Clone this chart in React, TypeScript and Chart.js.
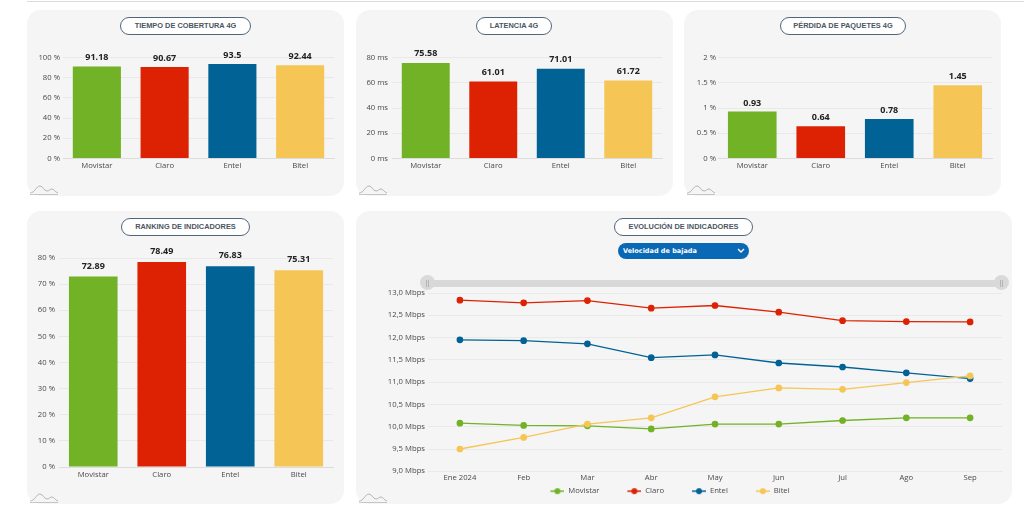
import React, { useEffect, useRef } from "react";
import { Chart, registerables } from "chart.js";

Chart.register(...registerables);

const operators = ["Movistar", "Claro", "Entel", "Bitel"];
const operatorColors = ["#72b226", "#dd2204", "#006295", "#f5c656"];
const coverage = [91.18, 90.67, 93.5, 92.44];
const latency = [75.58, 61.01, 71.01, 61.72];
const packetLoss = [0.93, 0.64, 0.78, 1.45];
const ranking = [72.89, 78.49, 76.83, 75.31];
const months = ["Ene 2024", "Feb", "Mar", "Abr", "May", "Jun", "Jul", "Ago", "Sep"];
const movistarSpeed = [10.08, 10.03, 10.02, 9.95, 10.06, 10.06, 10.14, 10.2, 10.2];
const claroSpeed = [12.84, 12.78, 12.83, 12.66, 12.72, 12.57, 12.38, 12.36, 12.35];
const entelSpeed = [11.95, 11.93, 11.86, 11.55, 11.61, 11.43, 11.34, 11.21, 11.08];
const bitelSpeed = [9.5, 9.76, 10.06, 10.2, 10.67, 10.87, 10.84, 10.99, 11.14];

const FONT = "'Open Sans', sans-serif";
const GRID = "#e9e9e9";
const TICK = "#4a4a4a";
const TICK_SIZE = 7.7;

type Box = { x: number; y: number; w: number; h: number };
type Plot = { left: number; top: number; right: number; bottom: number };

const valueLabels = {
  id: "valueLabels",
  afterDatasetsDraw(chart: any) {
    const ctx = chart.ctx;
    const meta = chart.getDatasetMeta(0);
    const gap = chart.options.plugins.valueLabels.gap;
    ctx.save();
    ctx.font = `bold 9px ${FONT}`;
    ctx.fillStyle = "#222";
    ctx.textAlign = "center";
    ctx.textBaseline = "bottom";
    meta.data.forEach((el: any, i: number) => {
      ctx.fillText(String(chart.data.datasets[0].data[i]), el.x, el.y - gap);
    });
    ctx.restore();
  },
};

const legendShift = {
  id: "legendShift",
  afterLayout(chart: any) {
    chart.legend.left -= 21;
    chart.legend.right -= 21;
    chart.legend.top += 1;
    chart.legend.bottom += 1;
  },
};

function scalesFor(box: Box, plot: Plot, extraBottom: number) {
  return {
    xFit(s: any) {
      s.height = box.y + box.h - plot.bottom - extraBottom;
    },
    yFit(s: any) {
      s.width = plot.left - box.x;
    },
    padding: { top: plot.top - box.y, right: box.x + box.w - plot.right, left: 0, bottom: 0 },
  };
}

function BarPanel(props: {
  box: Box;
  plot: Plot;
  values: number[];
  max: number;
  step: number;
  unit: string;
  title: string;
  tickGap: number;
  labelGap: number;
  pill: { x: number; w: number };
}) {
  const ref = useRef<HTMLCanvasElement | null>(null);
  const { box, plot, values, max, step, unit, tickGap, labelGap } = props;
  useEffect(() => {
    const f = scalesFor(box, plot, 0);
    const chart = new Chart(ref.current as HTMLCanvasElement, {
      type: "bar",
      data: {
        labels: operators,
        datasets: [
          {
            data: values,
            backgroundColor: operatorColors,
            categoryPercentage: 0.71,
            barPercentage: 1,
          },
        ],
      },
      options: {
        animation: false,
        responsive: false,
        layout: { padding: f.padding },
        plugins: { legend: { display: false }, tooltip: { enabled: false }, valueLabels: { gap: labelGap } },
        scales: {
          x: {
            afterFit: f.xFit,
            grid: { display: false, drawTicks: false },
            border: { color: "#dcdcdc" },
            ticks: { color: TICK, font: { family: FONT, size: TICK_SIZE }, padding: 3, maxRotation: 0 },
          },
          y: {
            min: 0,
            max,
            afterFit: f.yFit,
            grid: { color: GRID, drawTicks: false },
            border: { display: false },
            ticks: {
              stepSize: step,
              color: TICK,
              padding: tickGap,
              font: { family: FONT, size: TICK_SIZE },
              callback: (v: any) => `${v} ${unit}`,
            },
          },
        },
      },
      plugins: [valueLabels],
    } as any);
    return () => chart.destroy();
  }, []);
  return (
    <Panel box={box} title={props.title} pill={props.pill}>
      <canvas ref={ref} width={box.w} height={box.h} style={{ position: "absolute", left: 0, top: 0 }} />
    </Panel>
  );
}

function Logo() {
  return (
    <svg width="30" height="12" style={{ position: "absolute", left: 2, bottom: 0 }}>
      <path d="M1 9 C6 9 7 2 11 2 C14 2 15 7 18 7 C20 7 21 5 23 5 C25 5 26 8 29 9" fill="none" stroke="#9a9a9a" strokeWidth="0.7" />
      <path d="M1 10.5 H29" stroke="#b0b0b0" strokeWidth="0.7" />
    </svg>
  );
}

function Panel(props: { box: Box; title: string; pill: { x: number; w: number }; children: any }) {
  const { box, pill } = props;
  return (
    <div
      style={{
        position: "absolute",
        left: box.x,
        top: box.y,
        width: box.w,
        height: box.h,
        background: "#f5f5f5",
        borderRadius: 14,
      }}
    >
      {props.children}
      <div
        style={{
          position: "absolute",
          left: pill.x - box.x,
          top: 7,
          width: pill.w,
          height: 18,
          boxSizing: "border-box",
          background: "#fff",
          border: "1.5px solid #50667a",
          borderRadius: 9,
          font: "bold 7.4px 'Liberation Sans', Arial, sans-serif",
          color: "#4b5660",
          textAlign: "center",
          lineHeight: "15px",
          whiteSpace: "nowrap",
        }}
      >
        {props.title}
      </div>
      <Logo />
    </div>
  );
}

function markerFor(color: string) {
  const c = document.createElement("canvas");
  c.width = 38;
  c.height = 8;
  const x = c.getContext("2d") as CanvasRenderingContext2D;
  x.strokeStyle = color;
  x.lineWidth = 1.5;
  x.beginPath();
  x.moveTo(24, 4);
  x.lineTo(38, 4);
  x.stroke();
  x.fillStyle = color;
  x.beginPath();
  x.arc(31, 4, 3, 0, Math.PI * 2);
  x.fill();
  return c;
}

function LinePanel(props: { box: Box; plot: Plot }) {
  const ref = useRef<HTMLCanvasElement | null>(null);
  const { box, plot } = props;
  useEffect(() => {
    const f = scalesFor(box, plot, 22.5);
    const series = [movistarSpeed, claroSpeed, entelSpeed, bitelSpeed];
    const chart = new Chart(ref.current as HTMLCanvasElement, {
      type: "line",
      data: {
        labels: months,
        datasets: series.map((data, i) => ({
          label: operators[i],
          data,
          order: series.length - i,
          borderColor: operatorColors[i],
          backgroundColor: operatorColors[i],
          borderWidth: 1.3,
          pointRadius: 2.7,
          pointHoverRadius: 2.7,
          pointStyle: "circle",
          tension: 0,
        })),
      },
      options: {
        animation: false,
        responsive: false,
        layout: { padding: f.padding },
        plugins: {
          tooltip: { enabled: false },
          legend: {
            position: "bottom",
            labels: {
              color: TICK,
              font: { family: FONT, size: TICK_SIZE },
              usePointStyle: true,
              pointStyleWidth: 38,
              padding: 4,
              boxHeight: 8,
              generateLabels: () =>
                operators.map((text, i) => ({
                  text,
                  fontColor: TICK,
                  pointStyle: markerFor(operatorColors[i]),
                  datasetIndex: i,
                  lineWidth: 0,
                  strokeStyle: "transparent",
                  fillStyle: operatorColors[i],
                })),
            },
          },
        },
        scales: {
          x: {
            offset: true,
            afterFit: f.xFit,
            grid: { display: false, drawTicks: false },
            border: { color: GRID },
            ticks: { color: TICK, font: { family: FONT, size: TICK_SIZE }, padding: 2, maxRotation: 0, autoSkip: false },
          },
          y: {
            min: 9,
            max: 13,
            afterFit: f.yFit,
            grid: { color: GRID, drawTicks: false },
            border: { display: false },
            ticks: {
              stepSize: 0.5,
              color: TICK,
              padding: 3,
              font: { family: FONT, size: TICK_SIZE },
              callback: (v: any) => `${Number(v).toFixed(1).replace(".", ",")} Mbps`,
            },
          },
        },
      },
      plugins: [legendShift],
    } as any);
    return () => chart.destroy();
  }, []);
  const handle = (left: number) => (
    <div
      style={{
        position: "absolute",
        left,
        top: 64,
        width: 15,
        height: 15,
        borderRadius: 8,
        background: "#d9d9d9",
        color: "#9a9a9a",
        font: "7px 'Liberation Sans', sans-serif",
        textAlign: "center",
        lineHeight: "15px",
      }}
    >
      ||
    </div>
  );
  return (
    <Panel box={box} title="EVOLUCIÓN DE INDICADORES" pill={{ x: 614, w: 139 }}>
      <canvas ref={ref} width={box.w} height={box.h} style={{ position: "absolute", left: 0, top: 0 }} />
      <div style={{ position: "absolute", left: 72, top: 68.5, width: 576, height: 7, background: "#d8d8d8" }} />
      {handle(64)}
      {handle(638)}
      <div
        style={{
          position: "absolute",
          left: 262,
          top: 32,
          width: 131,
          height: 16,
          borderRadius: 8,
          background: "#0a69b5",
          color: "#fff",
          font: "bold 6.5px 'DejaVu Sans', sans-serif",
          lineHeight: "16px",
          paddingLeft: 5,
          boxSizing: "border-box",
        }}
      >
        Velocidad de bajada
        <svg width="8" height="6" style={{ position: "absolute", right: 4, top: 5 }}>
          <path d="M1 1 L4 4 L7 1" fill="none" stroke="#fff" strokeWidth="1.4" />
        </svg>
      </div>
    </Panel>
  );
}

export default function App() {
  return (
    <div style={{ position: "absolute", left: 0, top: 0, width: 1024, height: 508, background: "#fff", overflow: "hidden" }}>
      <div style={{ position: "absolute", left: 27, top: 1, right: 0, height: 1, background: "#dcdcdc" }} />
      <BarPanel
        box={{ x: 27, y: 10, w: 317, h: 186 }}
        plot={{ left: 63, top: 57.5, right: 334, bottom: 158.5 }}
        values={coverage}
        max={100}
        step={20}
        unit="%"
        tickGap={3}
        labelGap={4}
        title="TIEMPO DE COBERTURA 4G"
        pill={{ x: 120, w: 131 }}
      />
      <BarPanel
        box={{ x: 356, y: 10, w: 317, h: 186 }}
        plot={{ left: 392, top: 57.5, right: 662, bottom: 158.5 }}
        values={latency}
        max={80}
        step={20}
        unit="ms"
        tickGap={4}
        labelGap={5}
        title="LATENCIA 4G"
        pill={{ x: 476, w: 76 }}
      />
      <BarPanel
        box={{ x: 684, y: 10, w: 317, h: 186 }}
        plot={{ left: 718, top: 57.5, right: 992, bottom: 158.5 }}
        values={packetLoss}
        max={2}
        step={0.5}
        unit="%"
        tickGap={2}
        labelGap={4}
        title="PÉRDIDA DE PAQUETES 4G"
        pill={{ x: 780, w: 126 }}
      />
      <BarPanel
        box={{ x: 27, y: 211, w: 317, h: 293 }}
        plot={{ left: 59, top: 258, right: 333, bottom: 467 }}
        values={ranking}
        max={80}
        step={10}
        unit="%"
        tickGap={4}
        labelGap={6}
        title="RANKING DE INDICADORES"
        pill={{ x: 121, w: 129 }}
      />
      <LinePanel box={{ x: 356, y: 211, w: 656, h: 293 }} plot={{ left: 428, top: 293, right: 1002, bottom: 470.5 }} />
    </div>
  );
}
